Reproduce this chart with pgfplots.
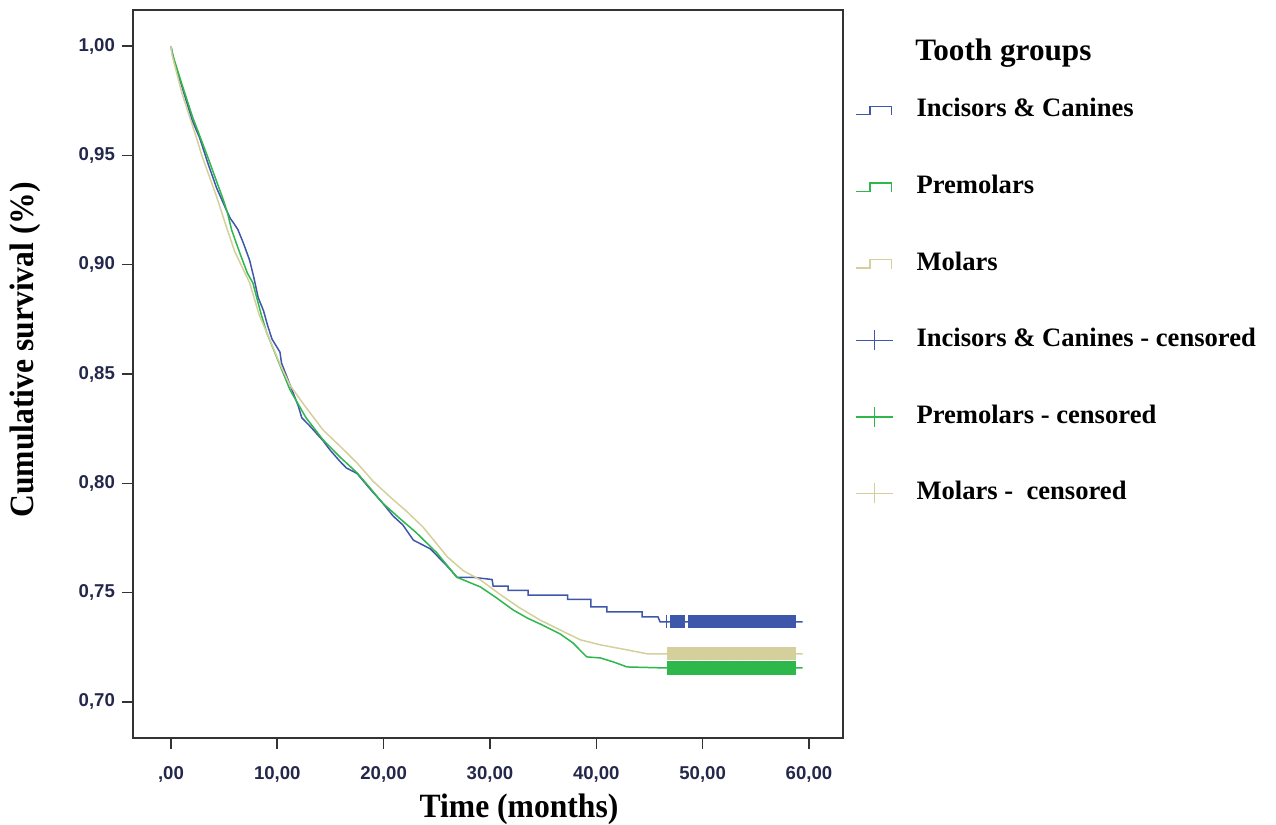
\documentclass[border=0pt]{standalone}
\usepackage{fontspec}
\setmainfont{Liberation Serif}
\newfontfamily\ticksans{Liberation Sans}
\usepackage{pgfplots}
\pgfplotsset{compat=1.18}
\usepackage{pgfplotstable}

\definecolor{ic}{HTML}{3F57AA}
\definecolor{pm}{HTML}{2EB74B}
\definecolor{mo}{HTML}{D5CF9C}
\definecolor{tk}{RGB}{35,40,75}

% censored observations (dense, they merge into bars)
\pgfplotstableread{
x g m
46.8 0.7156 0.7220
47.1 0.7156 0.7220
47.4 0.7156 0.7220
47.7 0.7156 0.7220
48.0 0.7156 0.7220
48.3 0.7156 0.7220
48.6 0.7156 0.7220
48.9 0.7156 0.7220
49.2 0.7156 0.7220
49.5 0.7156 0.7220
49.8 0.7156 0.7220
50.1 0.7156 0.7220
50.4 0.7156 0.7220
50.7 0.7156 0.7220
51.0 0.7156 0.7220
51.3 0.7156 0.7220
51.6 0.7156 0.7220
51.9 0.7156 0.7220
52.2 0.7156 0.7220
52.5 0.7156 0.7220
52.8 0.7156 0.7220
53.1 0.7156 0.7220
53.4 0.7156 0.7220
53.7 0.7156 0.7220
54.0 0.7156 0.7220
54.3 0.7156 0.7220
54.6 0.7156 0.7220
54.9 0.7156 0.7220
55.2 0.7156 0.7220
55.5 0.7156 0.7220
55.8 0.7156 0.7220
56.1 0.7156 0.7220
56.4 0.7156 0.7220
56.7 0.7156 0.7220
57.0 0.7156 0.7220
57.3 0.7156 0.7220
57.6 0.7156 0.7220
57.9 0.7156 0.7220
58.2 0.7156 0.7220
58.5 0.7156 0.7220
58.6 0.7156 0.7220
}\censGM

\pgfplotstableread{
x b
47.10 0.7366
47.40 0.7366
47.70 0.7366
48.00 0.7366
48.15 0.7366
48.85 0.7366
49.15 0.7366
49.45 0.7366
49.75 0.7366
50.05 0.7366
50.35 0.7366
50.65 0.7366
50.95 0.7366
51.25 0.7366
51.55 0.7366
51.85 0.7366
52.15 0.7366
52.45 0.7366
52.75 0.7366
53.05 0.7366
53.35 0.7366
53.65 0.7366
53.95 0.7366
54.25 0.7366
54.55 0.7366
54.85 0.7366
55.15 0.7366
55.45 0.7366
55.75 0.7366
56.05 0.7366
56.35 0.7366
56.65 0.7366
56.95 0.7366
57.25 0.7366
57.55 0.7366
57.85 0.7366
58.15 0.7366
58.45 0.7366
58.60 0.7366
}\censB

\begin{document}
\begin{tikzpicture}
\useasboundingbox (-66.5pt,-43.5pt) rectangle (571.5pt,369pt);
\begin{axis}[
  scale only axis,
  width=355pt, height=364pt,
  xmin=-3.57, xmax=63.2,
  ymin=0.6835, ymax=1.0165,
  axis line style={black!80, line width=0.8pt},
  xtick={0,10,20,30,40,50,60},
  xticklabels={{,00},{10,00},{20,00},{30,00},{40,00},{50,00},{60,00}},
  ytick={0.70,0.75,0.80,0.85,0.90,0.95,1.00},
  yticklabels={{0,70},{0,75},{0,80},{0,85},{0,90},{0,95},{1,00}},
  tick align=outside, xtick pos=bottom, ytick pos=left,
  major tick length=5.5pt,
  tick style={black!80, line width=0.8pt},
  ticklabel style={font=\ticksans\bfseries\fontsize{9.3}{11}\selectfont, text=tk},
  xticklabel style={yshift=-5pt},
  xlabel={Time (months)}, ylabel={Cumulative survival (\%)},
  label style={font=\bfseries\fontsize{17}{20}\selectfont\addfontfeatures{FakeStretch=0.93}},
  xlabel style={at={(rel axis cs:0.5437,-0.0975)}, anchor=center},
  ylabel style={at={(rel axis cs:-0.1521,0.533)}, anchor=center},
  legend cell align=left,
  legend style={at={(rel axis cs:1,1)}, anchor=north west, xshift=6pt, yshift=-44.5pt,
    draw=none, fill=none, inner sep=0pt, outer sep=0pt,
    row sep=26.8pt, column sep=11.5pt,
    nodes={inner sep=0pt, text height=9pt, text depth=2.5pt},
    font=\bfseries\fontsize{13.3}{16}\selectfont},
]
\addplot[ic, line width=0.75pt,
  legend image code/.code={\draw[ic, line width=0.75pt] (0pt,-2.1pt) -- (7pt,-2.1pt) -- (7pt,2.1pt) -- (17.8pt,2.1pt) -- (17.8pt,-2.5pt);}]
coordinates {
(0,1.0) (0.3,0.993) (1.0,0.982) (2.0,0.966) (2.7,0.958) (3.5,0.946)
(4.3,0.935) (5.3,0.924) (5.6,0.921) (5.9,0.919) (6.3,0.916) (6.8,0.910)
(7.4,0.902) (7.8,0.894) (8.2,0.885) (8.7,0.879) (9.1,0.872) (9.5,0.866)
(10.25,0.860) (10.4,0.855) (11.2,0.845) (12.0,0.835) (12.3,0.830)
(13.1,0.826) (14.3,0.8195) (15.0,0.815) (15.9,0.810) (16.5,0.807)
(17.5,0.8045) (18.8,0.797) (19.9,0.791) (20.9,0.785) (21.8,0.781)
(22.8,0.774) (24.4,0.770) (26.0,0.762) (26.9,0.757) (28.4,0.757)
(30.2,0.756) (30.3,0.753) (31.7,0.753) (31.7,0.751) (33.6,0.751)
(33.6,0.7488) (37.3,0.7488) (37.3,0.7469) (39.5,0.7469) (39.5,0.7435)
(41.0,0.7435) (41.0,0.7412) (44.3,0.7412) (44.3,0.7389) (45.8,0.7389)
(46.0,0.7366) (59.4,0.7366)
};
\addlegendentry{Incisors \& Canines}
\addplot[pm, line width=0.75pt,
  legend image code/.code={\draw[pm, line width=0.75pt] (0pt,-2.1pt) -- (7pt,-2.1pt) -- (7pt,2.1pt) -- (17.8pt,2.1pt) -- (17.8pt,-2.5pt);}]
coordinates {
(0,1.0) (0.1,0.997) (1.0,0.983) (2.0,0.968) (2.7,0.959) (3.4,0.950)
(4.3,0.938) (4.9,0.930) (5.3,0.924) (5.7,0.916) (6.5,0.905) (7.2,0.896)
(7.7,0.8917) (8.5,0.877) (9.0,0.869) (10.0,0.857) (11.2,0.8427)
(12.7,0.830) (14.3,0.8199) (15.9,0.812) (17.5,0.8048) (18.7,0.798)
(19.9,0.791) (21.5,0.784) (23.1,0.7773) (25.0,0.7682) (26.9,0.757)
(29.1,0.7526) (30.5,0.748) (32.2,0.742) (33.5,0.7384) (35.0,0.735)
(36.6,0.7311) (37.8,0.727) (39.1,0.7206) (40.4,0.7201) (41.6,0.7183)
(42.9,0.716) (46.0,0.7156) (59.4,0.7156)
};
\addlegendentry{Premolars}
\addplot[mo, line width=0.75pt,
  legend image code/.code={\draw[mo, line width=0.75pt] (0pt,-2.1pt) -- (7pt,-2.1pt) -- (7pt,2.1pt) -- (17.8pt,2.1pt) -- (17.8pt,-2.5pt);}]
coordinates {
(0,1.0) (0.1,0.996) (1.0,0.979) (2.4,0.958) (2.9,0.950) (4.3,0.931)
(5.3,0.916) (6.0,0.906) (7.4,0.8917) (8.3,0.877) (9.3,0.8656)
(10.3,0.854) (11.2,0.8448) (12.5,0.836) (14.3,0.8244) (15.9,0.817)
(17.5,0.8093) (19.0,0.801) (20.6,0.7938) (22.2,0.787) (23.7,0.780)
(26.0,0.7663) (27.5,0.760) (29.1,0.7558) (31.0,0.749) (32.8,0.743)
(34.7,0.7375) (36.6,0.7329) (38.5,0.7284) (40.4,0.7261) (42.9,0.7238)
(44.8,0.722) (59.4,0.722)
};
\addlegendentry{Molars}
\addplot[only marks, mark=|, mark size=3.25pt, ic, mark options={line width=2pt},
  legend image code/.code={\draw[ic, line width=0.75pt] (0pt,0pt) -- (18.5pt,0pt) (9.25pt,-5pt) -- (9.25pt,5pt);}]
table[x=x, y=b] {\censB};
\addlegendentry{Incisors \& Canines - censored}
\addplot[only marks, mark=|, mark size=3.5pt, pm, mark options={line width=2pt},
  legend image code/.code={\draw[pm, line width=0.75pt] (0pt,0pt) -- (18.5pt,0pt) (9.25pt,-5pt) -- (9.25pt,5pt);}]
table[x=x, y=g] {\censGM};
\addlegendentry{Premolars - censored}
\addplot[only marks, mark=|, mark size=3.25pt, mo, mark options={line width=2pt},
  legend image code/.code={\draw[mo, line width=0.75pt] (0pt,0pt) -- (18.5pt,0pt) (9.25pt,-5pt) -- (9.25pt,5pt);}]
table[x=x, y=m] {\censGM};
\addlegendentry{Molars -\ \ censored}
\addplot[only marks, mark=|, mark size=3.25pt, ic, mark options={line width=0.75pt}, forget plot]
coordinates {(46.6,0.7366)};
\end{axis}
\node[anchor=west, inner sep=0pt, font=\bfseries\fontsize{15.6}{18}\selectfont] at (391pt,342.5pt) {Tooth groups};
\end{tikzpicture}
\end{document}
